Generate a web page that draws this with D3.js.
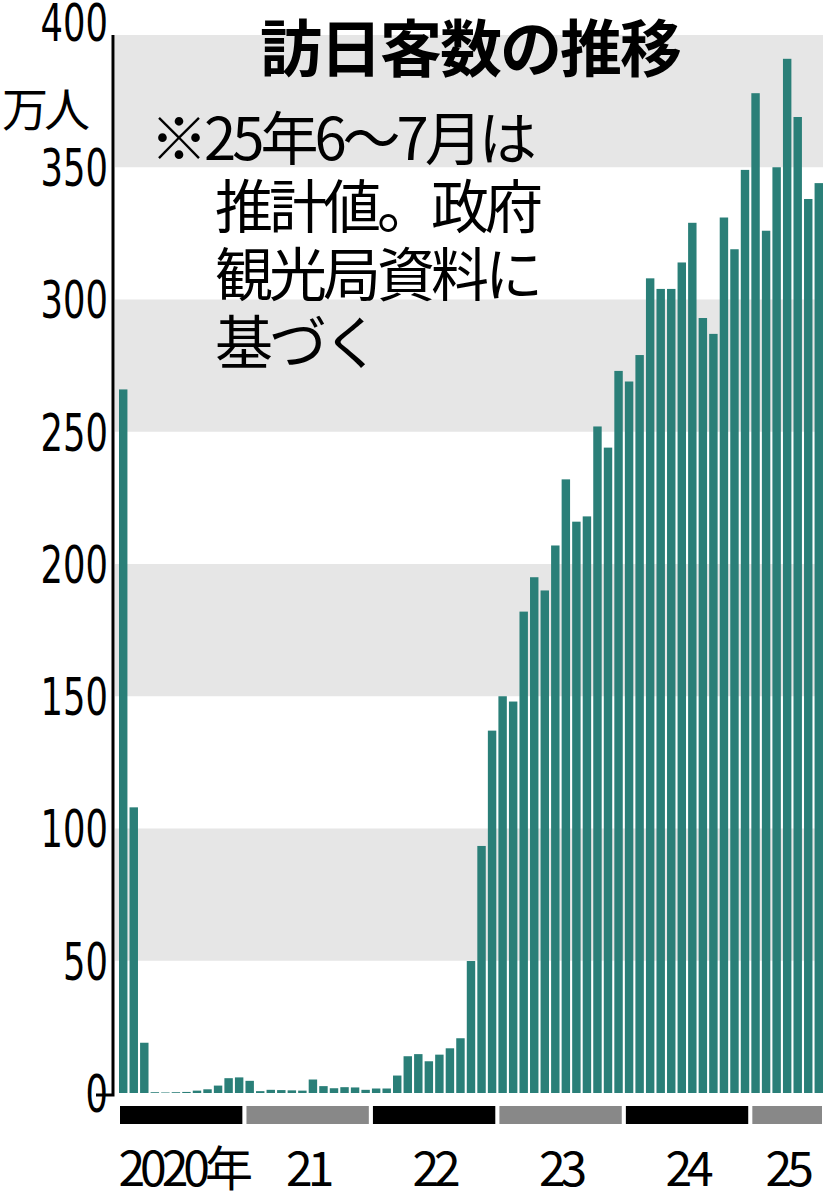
<!DOCTYPE html>
<html><head><meta charset="utf-8">
<script src="https://cdn.jsdelivr.net/npm/d3@7"></script>
<style>body{margin:0;background:#fff}</style></head>
<body><svg id="c" width="835" height="1200"></svg>
<script>
// monthly visitors, 10k persons, Jan 2020 - Jul 2025
var v2020 = [266, 108, 19, 0.3, 0.2, 0.3, 0.4, 0.9, 1.4, 2.8, 5.6, 5.9];
var v2021 = [4.6, 0.7, 1.2, 1.1, 1.0, 0.9, 5.1, 2.6, 1.8, 2.2, 2.1, 1.2];
var v2022 = [1.7, 1.7, 6.6, 13.9, 14.7, 12.0, 14.5, 16.9, 20.7, 49.9, 93.4, 137];
var v2023 = [150, 148, 182, 195, 190, 207, 232, 216, 218, 252, 244, 273];
var v2024 = [269, 279, 308, 304, 304, 314, 329, 293, 287, 331, 319, 349];
var v2025 = [378, 326, 350, 391, 369, 338, 344];
var years = ["2020年", "21", "22", "23", "24", "25"];
var yTicks = [0, 50, 100, 150, 200, 250, 300, 350, 400];

var values = [].concat(v2020, v2021, v2022, v2023, v2024, v2025);
var yearLens = [v2020, v2021, v2022, v2023, v2024, v2025].map(function(a){ return a.length; });
var svg = d3.select("#c");
var x = d3.scaleBand().domain(d3.range(values.length)).range([119, 823]).paddingInner(0.2);
var y = d3.scaleLinear().domain([0, 400]).range([1093, 35]);

// bands
[[350,400],[250,300],[150,200],[50,100]].forEach(function(b){
  svg.append("rect").attr("x",115).attr("width",708).attr("y",y(b[1])).attr("height",y(b[0])-y(b[1])).attr("fill","#e6e6e6");
});
svg.selectAll(".bar").data(values).enter().append("rect")
  .attr("x",function(d,i){return x(i);}).attr("width",x.bandwidth())
  .attr("y",function(d){return y(d);}).attr("height",function(d){return y(0)-y(d);})
  .attr("fill","#2a7f78");

// axis
svg.append("path").attr("d","M113,"+y(400)+"V"+(y(0)+2)+"H96").attr("stroke","#000").attr("stroke-width",3).attr("fill","none");
svg.selectAll(".yt").data(yTicks).enter().append("text")
  .attr("x",108).attr("y",function(d){return d===400 ? y(d)+6 : y(d)+19;}).attr("text-anchor","end")
  .attr("font-family","DejaVu Sans, sans-serif").attr("font-size",52)
  .attr("transform","translate(108,0) scale(0.68,1) translate(-108,0)")
  .text(function(d){return d;});
svg.append("text").attr("x",2).attr("y",126).attr("font-family","Noto Sans CJK JP").attr("font-size",46).attr("letter-spacing",-4).text("万人");

// year bars
var start = 0;
yearLens.forEach(function(n,k){
  var x0 = x(start), x1 = x(start+n-1)+x.bandwidth();
  svg.append("rect").attr("x",x0+1).attr("width",x1-x0-2).attr("y",1106).attr("height",18)
    .attr("fill", k%2 ? "#888" : "#000");
  svg.append("text").attr("x",k===0?(x0+x1)/2+2:(x0+x1)/2).attr("y",1186).attr("text-anchor","middle")
    .attr("font-family","Noto Sans CJK JP").attr("font-size",48).attr("letter-spacing",-5).text(years[k]);
  start += n;
});

// title and note
svg.append("text").attr("x",470).attr("y",72).attr("text-anchor","middle").attr("font-family","Noto Sans CJK JP")
  .attr("font-weight","bold").attr("font-size",62).attr("letter-spacing",-2).text("訪日客数の推移");
var note = [["※25年6～7月は",150],["推計値。政府",215],["観光局資料に",215],["基づく",215]];
note.forEach(function(t,i){
  svg.append("text").attr("x",t[1]).attr("y",160+i*68).attr("font-family","Noto Sans CJK JP")
    .attr("font-size",58).attr("letter-spacing",-4).text(t[0]);
});
</script></body></html>
